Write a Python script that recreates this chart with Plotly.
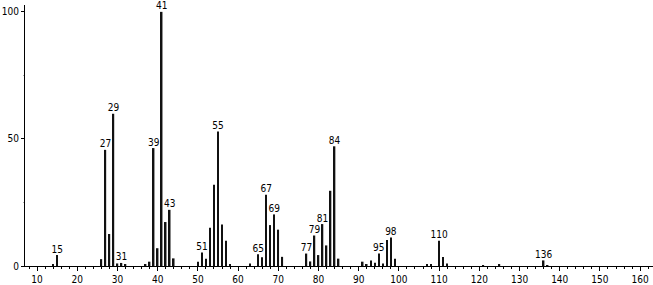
import plotly.graph_objects as go

mz = [14, 15, 26, 27, 28, 29, 30, 31, 32, 37, 38, 39, 40, 41, 42, 43, 44,
      50, 51, 52, 53, 54, 55, 56, 57, 58, 63, 65, 66, 67, 68, 69, 70, 71,
      77, 78, 79, 80, 81, 82, 83, 84, 85, 91, 92, 93, 94, 95, 96, 97, 98, 99,
      107, 108, 110, 111, 112, 121, 125, 136, 137]
intensity = [0.7, 4.3, 2.7, 45.7, 12.6, 59.9, 1.0, 1.2, 0.6, 0.4, 1.7, 46.4, 7.0, 100, 17.3, 22.1, 3.0,
             1.7, 5.3, 2.9, 15.1, 32.0, 52.9, 16.3, 9.9, 0.8, 1.0, 4.6, 3.4, 28.0, 16.1, 20.3, 14.3, 3.6,
             4.9, 1.8, 12.0, 4.3, 16.5, 8.1, 29.6, 47.1, 2.9, 1.7, 0.7, 2.2, 1.3, 4.9, 1.0, 10.2, 11.2, 2.9,
             0.7, 0.4, 9.9, 3.5, 1.0, 0.3, 0.7, 2.2, 0.3]
labeled = [15, 27, 29, 31, 39, 41, 43, 51, 55, 65, 67, 69, 77, 79, 81, 84, 95, 98, 110, 136]

lookup = dict(zip(mz, intensity))
label_y = [lookup[m] for m in labeled]
label_text = [str(m) for m in labeled]

fig = go.Figure()
fig.add_trace(go.Bar(x=mz, y=intensity, width=0.38,
                     marker=dict(color="#111111", line=dict(width=0))))
fig.add_trace(go.Scatter(x=labeled, y=label_y, mode="text", text=label_text,
                         textposition="top center", cliponaxis=False,
                         textfont=dict(family="DejaVu Sans Condensed, DejaVu Sans", size=10, color="#000")))

fig.update_layout(
    width=653, height=285,
    margin=dict(l=25, r=0, t=5, b=17),
    paper_bgcolor="white", plot_bgcolor="white",
    showlegend=False,
    font=dict(family="DejaVu Sans Condensed, DejaVu Sans", size=10, color="#000"),
)
fig.update_xaxes(range=[7, 163.2], showgrid=False, zeroline=False,
                 showline=True, linecolor="#000", linewidth=1,
                 tickmode="linear", tick0=10, dtick=10,
                 ticks="outside", ticklen=4, tickcolor="#000", tickwidth=1,
                 minor=dict(dtick=2, tick0=0, ticks="outside", ticklen=2, tickcolor="#000"),
                 tickfont=dict(size=10))
fig.update_yaxes(range=[0, 102.7], showgrid=False, zeroline=False,
                 showline=True, linecolor="#000", linewidth=1,
                 tickvals=[0, 50, 100], ticktext=["0", "50", "100"],
                 ticks="outside", ticklen=3, tickcolor="#000",
                 minor=dict(tickvals=[25, 75], ticks="outside", ticklen=1, tickcolor="#aaa"),
                 tickfont=dict(size=10))

fig.write_html("out.html")
